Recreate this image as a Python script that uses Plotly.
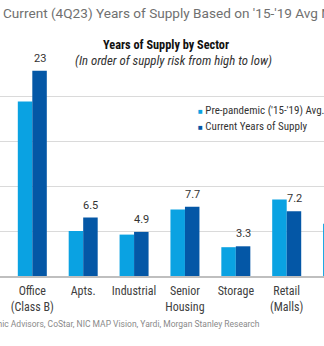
import plotly.graph_objects as go

# ---------------- data ----------------
categories = ["Office<br>(Class A)", "Office<br>(Class B)", "Apts.", "Industrial",
              "Senior<br>Housing", "Storage", "Retail<br>(Malls)", "Retail<br>(Strip)"]
pre_pandemic = [None, 19.4, 5.0, 4.6, 7.4, 3.2, 8.5, 5.8]
current = [None, 22.8, 6.5, 4.9, 7.7, 3.3, 7.2, None]
y_ticks = [0, 5, 10, 15, 20, 25]

series_names = ["Pre-pandemic ('15-'19) Avg. Years of Supply", "Current Years of Supply"]
main_title = "Current (4Q23) Years of Supply Based on '15-'19 Avg Net Absorption"
chart_title = "Years of Supply by Sector"
chart_subtitle = "(In order of supply risk from high to low)"
source_text = "Source: Green Street, CBRE Economic Advisors, CoStar, NIC MAP Vision, Yardi, Morgan Stanley Research"

# ---------------- style ----------------
W, H = 324, 346
M_T, M_B = 51, 70
LIGHT = "#0aa2e2"
DARK = "#0457a6"
COND = "Liberation Sans Narrow, Roboto Condensed, Roboto, sans-serif"
X_RANGE = [0.365, 6.733]

def py(p):
    """pixel y -> paper y"""
    return 1 - (p - M_T) / (H - M_T - M_B)

def px(p):
    return p / W

fig = go.Figure()
fig.add_trace(go.Bar(x=categories, y=pre_pandemic, name=series_names[0],
                     marker=dict(color=LIGHT, line=dict(width=0)), showlegend=False))
fig.add_trace(go.Bar(x=categories, y=current, name=series_names[1],
                     marker=dict(color=DARK, line=dict(width=0)), showlegend=False))

annotations = []
# data labels above current bars
for c, v in zip(categories, current):
    if v is None:
        continue
    lab = f"{v:.0f}" if v >= 10 else f"{v:.1f}"
    annotations.append(dict(x=c, y=v, xref="x", yref="y", text=lab, showarrow=False,
                            xshift=7.3, yshift=12.5, yanchor="middle",
                            font=dict(family="Roboto", size=11, color="#333333")))

# titles
annotations.append(dict(x=px(1), y=py(13), xref="paper", yref="paper", text=main_title,
                        showarrow=False, xanchor="left", yanchor="middle",
                        font=dict(family="Roboto", size=13.6, color="#707070")))
annotations.append(dict(x=px(166.5), y=py(45), xref="paper", yref="paper",
                        text="<b>" + chart_title + "</b>", showarrow=False,
                        xanchor="center", yanchor="middle",
                        font=dict(family=COND, size=12.3, color="#111111")))
annotations.append(dict(x=px(173), y=py(61), xref="paper", yref="paper",
                        text="<i>" + chart_subtitle + "</i>", showarrow=False,
                        xanchor="center", yanchor="middle",
                        font=dict(family=COND, size=12.8, color="#333333")))
# legend
for i, (nm, col) in enumerate(zip(series_names, [LIGHT, DARK])):
    yy = [110, 126.5][i]
    annotations.append(dict(x=px(195.5), y=py(yy), xref="paper", yref="paper",
                            text=f"<span style='color:{col};font-size:8px'>■</span> {nm}",
                            showarrow=False, xanchor="left", yanchor="middle",
                            font=dict(family=COND, size=11, color="#333333")))
# source
annotations.append(dict(x=px(262), y=py(324), xref="paper", yref="paper", text=source_text,
                        showarrow=False, xanchor="right", yanchor="middle",
                        font=dict(family="Roboto", size=8.5, color="#8a8a8a")))

fig.update_layout(
    width=W, height=H,
    margin=dict(l=0, r=0, t=M_T, b=M_B, pad=0),
    paper_bgcolor="white", plot_bgcolor="white",
    barmode="group", bargap=0.43, bargroupgap=0,
    showlegend=False,
    annotations=annotations,
    xaxis=dict(type="category", range=X_RANGE, showgrid=False, ticks="",
               showline=True, linecolor="#bfbfbf", linewidth=1.5,
               tickfont=dict(family=COND, size=12, color="#404040"),
               ticklabelstandoff=3, fixedrange=True),
    yaxis=dict(range=[0, 25], tickvals=y_ticks, showticklabels=False,
               showgrid=True, gridcolor="#dadada", gridwidth=1.2,
               zeroline=False, showline=False, fixedrange=True),
)

fig.write_html("out.html", config={"displayModeBar": False})
